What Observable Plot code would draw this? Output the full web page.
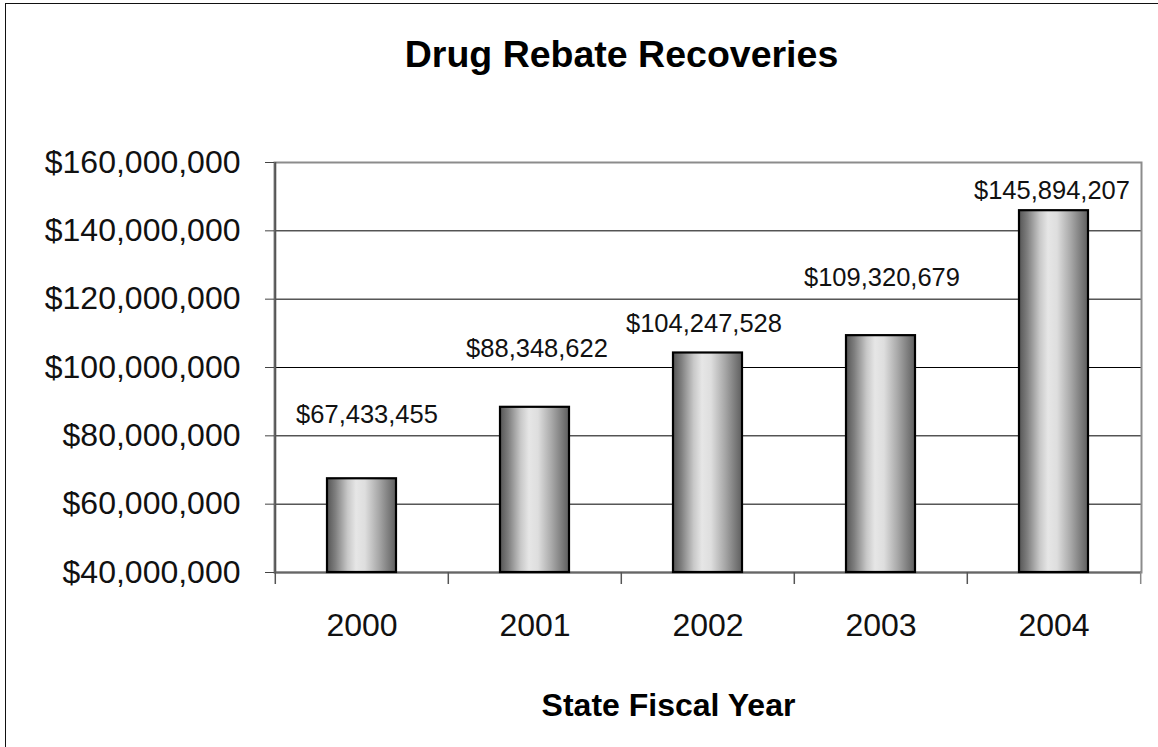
<!DOCTYPE html>
<html>
<head>
<meta charset="utf-8">
<script src="https://cdn.jsdelivr.net/npm/d3@7"></script>
<script src="https://cdn.jsdelivr.net/npm/@observablehq/plot@0.6"></script>
<style>
  html, body { margin: 0; padding: 0; background: #fff; overflow: hidden; }
  #wrap { position: relative; width: 1158px; height: 747px; }
  #border { position: absolute; left: 5px; top: 3px; width: 1200px; height: 800px; border: 1.5px solid #111; pointer-events: none; }
  svg { font-family: "Liberation Sans", Arial, sans-serif; }
</style>
</head>
<body>
<div id="wrap"><div id="border"></div></div>
<script>
// ---- data ----
const years = ["2000", "2001", "2002", "2003", "2004"];
const recoveries = [67433455, 88348622, 104247528, 109320679, 145894207];
const yTicks = [40000000, 60000000, 80000000, 100000000, 120000000, 140000000, 160000000];
const titleText = "Drug Rebate Recoveries";
const xTitle = "State Fiscal Year";

// ---- layout / style (not data) ----
const W = 1158, H = 747;
const M = {top: 162, right: 17, bottom: 175, left: 274};
const step = (W - M.left - M.right) / years.length;
const labelRise = [56, 50, 21, 50, 12];   // px between bar top and label baseline
const labelShift = [5, 2, -4, 1, -2];
const labelFs = 25.5;

const data = years.map((year, i) => ({year, value: recoveries[i]}));
const money = d => "$" + d3.format(",")(d);
const yMin = yTicks[0], yMax = yTicks[yTicks.length - 1];

const labelMarks = data.map((d, i) => Plot.text([d], {
  x: "year", y: "value", text: r => money(r.value),
  fontSize: labelFs, fill: "#111", textAnchor: "middle", lineAnchor: "top",
  dx: labelShift[i], dy: -labelRise[i] - 0.71 * labelFs
}));

const chart = Plot.plot({
  width: W, height: H,
  marginTop: M.top, marginRight: M.right, marginBottom: M.bottom, marginLeft: M.left,
  style: {fontFamily: '"Liberation Sans", Arial, sans-serif', background: "transparent", overflow: "visible"},
  x: {type: "band", domain: years, paddingInner: 0.6, paddingOuter: 0.3},
  y: {domain: [yMin, yMax]},
  marks: [
    Plot.ruleY(yTicks, {stroke: "#000", strokeWidth: 1}),
    Plot.frame({stroke: "#8c8c8c", strokeWidth: 2}),
    Plot.ruleX([years[0]], {x: d => d, dx: -step / 2, stroke: "#555", strokeWidth: 2}),
    Plot.ruleY([yMin], {stroke: "#666", strokeWidth: 2}),
    // category boundary ticks
    Plot.ruleX(years, {x: d => d, y1: yMin, y2: yMin, insetBottom: -12, dx: -step / 2, stroke: "#555", strokeWidth: 1.5}),
    Plot.ruleX([years[years.length - 1]], {x: d => d, y1: yMin, y2: yMin, insetBottom: -12, dx: step / 2, stroke: "#888", strokeWidth: 1.5}),
    Plot.axisY({ticks: yTicks, tickSize: 9, tickPadding: 25, tickFormat: money, fontSize: 32, stroke: "#444", fill: "#111", label: null}),
    Plot.axisX({tickSize: 0, tickPadding: 41, fontSize: 32, fill: "#111", label: null}),
    Plot.barY(data, {x: "year", y1: yMin, y2: "value", fill: "url(#barGrad)", stroke: "#000", strokeWidth: 2.2}),
    ...labelMarks,
    Plot.text([titleText], {frameAnchor: "top", text: d => d, fontSize: 37.5, fontWeight: "bold", fill: "#000",
      lineAnchor: "top", dx: -86.5, dy: -122.5}),
    Plot.text([xTitle], {frameAnchor: "bottom", text: d => d, fontSize: 32, fontWeight: "bold", fill: "#000",
      lineAnchor: "top", dx: -39.5, dy: 121})
  ]
});

const defs = d3.select(chart).insert("defs", ":first-child");
const g = defs.append("linearGradient").attr("id", "barGrad").attr("x1", "0%").attr("x2", "100%").attr("y1", "0%").attr("y2", "0%");
[["0%", "#555555"], ["12%", "#7e7e7e"], ["30%", "#c8c8c8"], ["42%", "#e6e6e6"], ["55%", "#dedede"], ["75%", "#a8a8a8"], ["100%", "#5e5e5e"]]
  .forEach(([o, c]) => g.append("stop").attr("offset", o).attr("stop-color", c));

document.getElementById("wrap").prepend(chart);
</script>
</body>
</html>
